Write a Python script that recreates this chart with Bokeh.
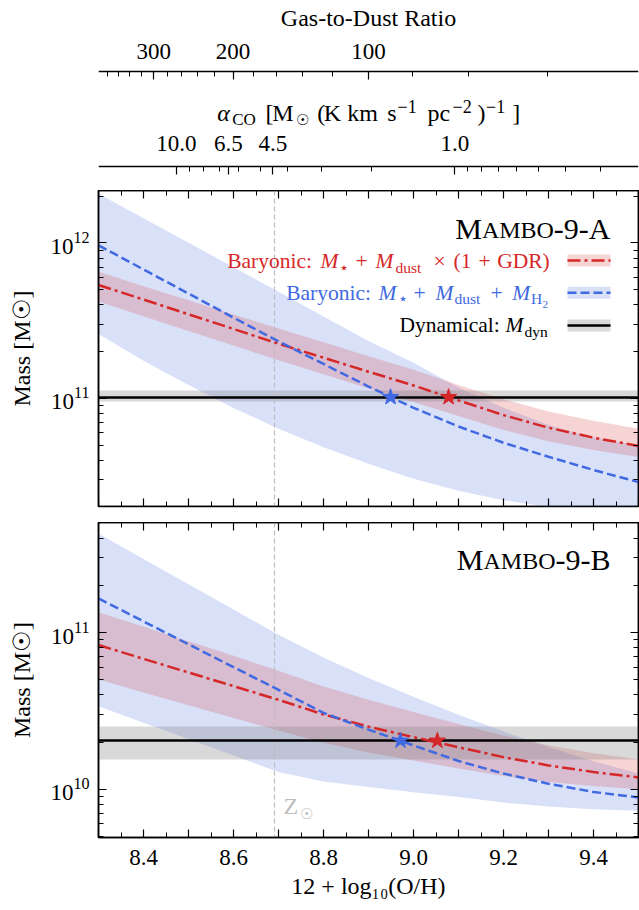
import math
from bokeh.plotting import figure
from bokeh.models import (Range1d, LinearAxis, LogAxis, FixedTicker,
                          LogTickFormatter, CustomJSTickFormatter)
from bokeh.layouts import column
from bokeh.core.properties import value
from bokeh.embed import file_html
from bokeh.resources import INLINE

FONT = "Liberation Serif"
RED = "#d62728"
BLUE = "#4169e1"
ZGRAY = "#bdbdbd"
DASHDOT = "13 4 3 4"
DASHED = "9 4"
MID = 0.34   # distance baseline -> middle of the text box, in em

# ---------------- data ----------------
metallicity = [8.3, 8.4, 8.5, 8.6, 8.7, 8.8, 8.9, 9.0, 9.1, 9.2, 9.3, 9.4, 9.5]

# MAMBO-9-A  (solar masses)
a_gdr_mid = [5.37e11, 4.33e11, 3.48e11, 2.80e11, 2.25e11, 1.83e11, 1.486e11,
             1.213e11, 9.73e10, 7.82e10, 6.49e10, 5.60e10, 4.95e10]
a_gdr_hi = [6.53e11, 5.28e11, 4.28e11, 3.47e11, 2.82e11, 2.30e11, 1.87e11,
            1.53e11, 1.22e11, 9.89e10, 8.26e10, 7.18e10, 6.38e10]
a_gdr_lo = [4.20e11, 3.38e11, 2.72e11, 2.19e11, 1.76e11, 1.43e11, 1.16e11,
            9.48e10, 7.73e10, 6.28e10, 5.30e10, 4.66e10, 4.20e10]
a_h2_mid = [9.66e11, 6.76e11, 4.73e11, 3.31e11, 2.33e11, 1.667e11, 1.194e11,
            8.71e10, 6.61e10, 5.19e10, 4.22e10, 3.47e10, 2.90e10]
a_h2_hi = [2.07e12, 1.445e12, 1.005e12, 6.98e11, 4.85e11, 3.37e11, 2.34e11,
           1.70e11, 1.175e11, 8.71e10, 6.76e10, 5.62e10, 5.01e10]
a_h2_lo = [2.60e11, 1.75e11, 1.22e11, 8.7e10, 6.4e10, 4.85e10, 3.8e10,
           3.05e10, 2.55e10, 2.22e10, 2.0e10, 1.86e10, 1.76e10]
a_dyn = 1.02e11
a_dyn_lo = 0.95e11
a_dyn_hi = 1.12e11
a_star_x = [8.949, 9.078]          # blue, red

# MAMBO-9-B
b_gdr_mid = [8.32e10, 6.79e10, 5.56e10, 4.55e10, 3.72e10, 3.00e10, 2.51e10,
             2.15e10, 1.853e10, 1.603e10, 1.419e10, 1.288e10, 1.189e10]
b_gdr_hi = [1.349e11, 1.089e11, 8.81e10, 7.10e10, 5.70e10, 4.52e10, 3.72e10,
            3.11e10, 2.61e10, 2.20e10, 1.905e10, 1.698e10, 1.552e10]
b_gdr_lo = [5.01e10, 4.14e10, 3.43e10, 2.85e10, 2.37e10, 1.98e10, 1.718e10,
            1.524e10, 1.358e10, 1.216e10, 1.114e10, 1.047e10, 1.0e10]
b_h2_mid = [1.65e11, 1.178e11, 8.41e10, 6.01e10, 4.31e10, 3.07e10, 2.40e10,
            1.905e10, 1.514e10, 1.259e10, 1.084e10, 9.61e9, 8.85e9]
b_h2_hi = [4.29e11, 2.95e11, 2.03e11, 1.40e11, 9.66e10, 6.92e10, 5.13e10,
           3.89e10, 2.99e10, 2.34e10, 1.86e10, 1.51e10, 1.26e10]
b_h2_lo = [3.39e10, 2.66e10, 2.09e10, 1.64e10, 1.288e10, 1.122e10, 1.035e10,
           9.55e9, 8.91e9, 8.22e9, 7.76e9, 7.46e9, 7.28e9]
b_dyn = 2.04e10
b_dyn_lo = 1.55e10
b_dyn_hi = 2.50e10
b_star_x = [8.971, 9.053]

z_sun = 8.69

x_tick_values = [8.3, 8.4, 8.5, 8.6, 8.7, 8.8, 8.9, 9.0, 9.1, 9.2, 9.3, 9.4, 9.5]
x_tick_labels = ["", "8.4", "", "8.6", "", "8.8", "", "9.0", "", "9.2", "", "9.4", ""]

gdr_tick_values = [300, 200, 100]
gdr_tick_labels = ["300", "200", "100"]
gdr_minor_values = [380, 360, 340, 320, 280, 260, 240, 220, 180, 160, 140,
                    120, 80, 60, 40]

alpha_tick_values = [10.0, 6.5, 4.5, 1.0]
alpha_tick_labels = ["10.0", "6.5", "4.5", "1.0"]
alpha_minor_values = [9, 8, 7, 6, 5, 4, 3, 2, 0.9, 0.8, 0.7, 0.6, 0.5, 0.4, 0.3]

# axis conversions of the secondary (top) axes
GDR_SUN_LOG, GDR_SLOPE = 2.21, 1.0
ALPHA_SUN, ALPHA_SLOPE = 4.46, 1.615


def gdr_to_x(g):
    return z_sun + (GDR_SUN_LOG - math.log10(g)) / GDR_SLOPE


def alpha_to_x(a):
    return z_sun + (math.log10(ALPHA_SUN) - math.log10(a)) / ALPHA_SLOPE


# ---------------- layout ----------------
W = 639
FL, FR = 98, 638
X0, X1 = 8.3, 9.5
A_TOP, A_H = 190, 316
B_TOP, B_H = 522, 315
A_LOG = (10.3054, 12.3376)
B_LOG = (9.692, 11.702)


def px2x(px):
    return X0 + (px - FL) / (FR - FL) * (X1 - X0)


def yA(py):
    lo, hi = A_LOG
    return 10 ** (hi - (py - A_TOP) / A_H * (hi - lo))


def yB(py):
    lo, hi = B_LOG
    return 10 ** (hi - (py - B_TOP) / B_H * (hi - lo))


def yT(py):
    return py


def blank():
    return CustomJSTickFormatter(code="return ''")


def style_axis(ax, major=8, minor=5):
    ax.major_tick_in = major
    ax.major_tick_out = 0
    ax.minor_tick_in = minor
    ax.minor_tick_out = 0
    ax.major_tick_line_color = "black"
    ax.minor_tick_line_color = "black"
    ax.major_tick_line_width = 1.2
    ax.minor_tick_line_width = 1
    ax.axis_line_color = "black"
    ax.axis_line_width = 1.5
    ax.major_label_text_font = FONT
    ax.major_label_text_font_size = "23px"
    ax.major_label_text_color = "black"
    ax.axis_label_text_font = FONT
    ax.axis_label_text_font_size = "24px"
    ax.axis_label_text_font_style = "normal"
    ax.axis_label_text_color = "black"


def add_text(p, ymap, px, base_py, txt, size, color="black", style="normal",
             align="left"):
    """Place text so that its baseline sits at screen row base_py."""
    p.text(x=[px2x(px)], y=[ymap(base_py - MID * size)], text=[txt],
           text_font=value(FONT), text_font_size=value(f"{size}px"),
           text_color=value(color), text_font_style=value(style),
           text_align=value(align), text_baseline=value("middle"))


x_minor = [round(X0 + 0.05 + 0.1 * i, 2) for i in range(12)]


def x_ticker():
    return FixedTicker(ticks=x_tick_values, minor_ticks=x_minor)


def y_ticker(majors, kmin, kmax):
    return FixedTicker(ticks=majors,
                       minor_ticks=[m * 10.0 ** k for k in range(kmin, kmax + 1)
                                    for m in range(2, 10)])


xr = Range1d(X0, X1)

# ---------------- top: secondary axes ----------------
pT = figure(width=W, height=A_TOP, x_range=xr, y_range=Range1d(A_TOP, 0),
            x_axis_location=None, y_axis_location=None, toolbar_location=None,
            output_backend="svg", min_border_left=FL, min_border_right=W - FR,
            min_border_top=0, min_border_bottom=0, outline_line_color=None)
pT.grid.visible = False

gpos = [gdr_to_x(v) for v in gdr_tick_values]
ax_g = LinearAxis(fixed_location=71,
                  ticker=FixedTicker(ticks=gpos,
                                     minor_ticks=[gdr_to_x(v) for v in gdr_minor_values]),
                  major_label_overrides={g: l for g, l in zip(gpos, gdr_tick_labels)})
style_axis(ax_g, 8, 5)
ax_g.major_label_standoff = 13
pT.add_layout(ax_g, "above")

apos = [alpha_to_x(v) for v in alpha_tick_values]
ax_a = LinearAxis(fixed_location=165.5,
                  ticker=FixedTicker(ticks=apos,
                                     minor_ticks=[alpha_to_x(v) for v in alpha_minor_values]),
                  major_label_overrides={a: l for a, l in zip(apos, alpha_tick_labels)})
style_axis(ax_a, 8, 5)
ax_a.major_label_standoff = 15
pT.add_layout(ax_a, "above")

# titles of the top axes
add_text(pT, yT, 368, 26, "Gas-to-Dust Ratio", 24, align="center")
alpha_pieces = [
    (216.7, "α", 24, "italic", 121), (231.7, "CO", 17, "normal", 125),
    (265, "[", 24, "normal", 121), (271.7, "M", 24, "normal", 121),
    (295.7, "☉", 15, "normal", 125), (316.7, "(", 24, "normal", 121),
    (323.3, "K", 24, "normal", 121), (346.7, "km", 24, "normal", 121),
    (386.7, "s", 24, "normal", 121), (397, "−1", 18, "normal", 112),
    (427, "pc", 24, "normal", 121), (452, "−2", 18, "normal", 112),
    (477, ")", 24, "normal", 121), (485.5, "−1", 18, "normal", 112),
    (511.7, "]", 24, "normal", 121),
]
for px, t, s, st, by in alpha_pieces:
    add_text(pT, yT, px, by, t, s, style=st)


# ---------------- panels ----------------
def make_panel(height, log_rng, majors, kmin, kmax, bottom_border, with_xlabels):
    p = figure(width=W, height=height, x_range=xr,
               y_range=Range1d(10 ** log_rng[0], 10 ** log_rng[1]),
               y_axis_type="log",
               x_axis_location="below" if with_xlabels else None,
               toolbar_location=None, output_backend="svg",
               min_border_left=FL, min_border_right=W - FR, min_border_top=0,
               min_border_bottom=bottom_border,
               outline_line_color="black", outline_line_width=1.5)
    p.grid.visible = False
    ly = p.yaxis[0]
    ly.ticker = y_ticker(majors, kmin, kmax)
    ly.formatter = LogTickFormatter()
    ly.axis_label = "Mass [M☉]"
    style_axis(ly)
    ly.major_label_standoff = 9
    ly.axis_label_standoff = 12
    if with_xlabels:
        bx = p.xaxis[0]
        bx.ticker = x_ticker()
        bx.major_label_overrides = {v: l for v, l in zip(x_tick_values, x_tick_labels)}
        bx.axis_label = "12 + log₁₀(O/H)"
        style_axis(bx)
        bx.major_label_standoff = 12
        bx.axis_label_standoff = 5
    else:
        bx = LinearAxis(fixed_location=10 ** log_rng[0], ticker=x_ticker(),
                        formatter=blank())
        style_axis(bx)
        p.add_layout(bx, "below")
    tx = LinearAxis(fixed_location=10 ** log_rng[1], ticker=x_ticker(),
                    formatter=blank())
    style_axis(tx)
    p.add_layout(tx, "above")
    ry = LogAxis(fixed_location=X1, ticker=y_ticker(majors, kmin, kmax),
                 formatter=blank())
    style_axis(ry)
    p.add_layout(ry, "right")
    return p


def draw_data(p, gdr_mid, gdr_lo, gdr_hi, h2_mid, h2_lo, h2_hi,
              dyn, dyn_lo, dyn_hi, star_x):
    p.varea(x=metallicity, y1=h2_lo, y2=h2_hi, fill_color=BLUE, fill_alpha=0.2)
    p.varea(x=metallicity, y1=gdr_lo, y2=gdr_hi, fill_color=RED, fill_alpha=0.2)
    p.hstrip(y0=[dyn_lo], y1=[dyn_hi], fill_color="gray", fill_alpha=0.3,
             line_color=None)
    p.vspan(x=[z_sun], line_color=ZGRAY, line_width=1.2, line_dash="5 3")
    p.hspan(y=[dyn], line_color="black", line_width=2.5)
    p.line(metallicity, gdr_mid, line_color=RED, line_width=2.5,
           line_dash=DASHDOT)
    p.line(metallicity, h2_mid, line_color=BLUE, line_width=2.5,
           line_dash=DASHED)
    p.scatter(x=star_x, y=[dyn, dyn], marker="star", size=17,
              fill_color=[BLUE, RED], line_color=[BLUE, RED])


def add_title(p, ymap, baseline, last):
    last_w = {"A": 56.6, "B": 55.0}[last]
    add_text(p, ymap, 610, baseline, "-9-" + last, 30, align="right")
    add_text(p, ymap, 610 - last_w, baseline, "AMBO", 24, align="right")
    add_text(p, ymap, 610 - last_w - 72, baseline, "M", 30, align="right")


pA = make_panel(A_H + (B_TOP - A_TOP - A_H), A_LOG, [1e11, 1e12], 10, 12,
                B_TOP - A_TOP - A_H, False)
pB = make_panel(910 - B_TOP, B_LOG, [1e10, 1e11], 9, 11, 910 - B_TOP - B_H, True)

draw_data(pA, a_gdr_mid, a_gdr_lo, a_gdr_hi, a_h2_mid, a_h2_lo, a_h2_hi,
          a_dyn, a_dyn_lo, a_dyn_hi, a_star_x)
draw_data(pB, b_gdr_mid, b_gdr_lo, b_gdr_hi, b_h2_mid, b_h2_lo, b_h2_hi,
          b_dyn, b_dyn_lo, b_dyn_hi, b_star_x)

add_title(pA, yA, 238, "A")
add_title(pB, yB, 569, "B")

# legend (panel A)
LS, SS = 21.5, 15.5
legend_rows = [
    (RED, 268, [(226.7, "Baryonic:", LS, "normal", 0), (320, "M", LS, "italic", 0),
                (338.5, "⋆", SS, "normal", 4), (355, "+", LS, "normal", 0),
                (375, "M", LS, "italic", 0), (395, "dust", SS, "normal", 4),
                (433, "×", LS, "normal", 0), (453, "(1", LS, "normal", 0),
                (478, "+", LS, "normal", 0), (496.7, "GDR)", LS, "normal", 0)]),
    (BLUE, 299.5, [(285.7, "Baryonic:", LS, "normal", 0), (378, "M", LS, "italic", 0),
                   (397, "⋆", SS, "normal", 4), (413, "+", LS, "normal", 0),
                   (435, "M", LS, "italic", 0), (454, "dust", SS, "normal", 4),
                   (490, "+", LS, "normal", 0), (511.7, "M", LS, "italic", 0),
                   (530.5, "H", SS, "normal", 4), (542, "2", 11, "normal", 8)]),
    ("black", 332, [(399, "Dynamical:", LS, "normal", 0), (505, "M", LS, "italic", 0),
                    (524, "dyn", SS, "normal", 4)]),
]
for color, base, pieces in legend_rows:
    for px, t, s, st, dy in pieces:
        add_text(pA, yA, px, base + dy, t, s, color=color, style=st)

handles = [(260, RED, 0.2, RED, DASHDOT),
           (292.3, BLUE, 0.2, BLUE, DASHED),
           (325, "gray", 0.3, "black", "solid")]
for cy, fc, fa, lc, dash in handles:
    pA.quad(left=[px2x(567)], right=[px2x(610)], bottom=[yA(cy + 6)],
            top=[yA(cy - 6)], fill_color=fc, fill_alpha=fa, line_color=None)
    pA.line(x=[px2x(567), px2x(610)], y=[yA(cy), yA(cy)], line_color=lc,
            line_width=2.5, line_dash=dash)

# Z_sun label (panel B)
add_text(pB, yB, 283, 814, "Z", 24, color=ZGRAY)
add_text(pB, yB, 299, 819, "☉", 15, color=ZGRAY)

layout = column(pT, pA, pB, spacing=0)
open("out.html", "w").write(file_html(layout, INLINE))
